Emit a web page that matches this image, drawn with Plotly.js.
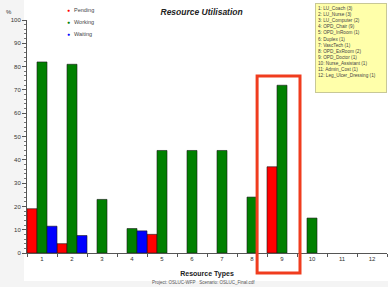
<!DOCTYPE html>
<html>
<head>
<meta charset="utf-8">
<script src="https://cdn.plot.ly/plotly-3.0.1.min.js"></script>
<style>html,body{margin:0;padding:0;background:#f4f4f4;}#chart{width:388px;height:287px;}</style>
</head>
<body>
<div id="chart"></div>
<script>
const categories = [1, 2, 3, 4, 5, 6, 7, 8, 9, 10, 11, 12];
const pending = [19, 4, null, null, 8, null, null, null, 37, null, null, null];
const working = [82, 81, 23, 10.5, 44, 44, 44, 24, 72, 15, null, null];
const waiting = [11.5, 7.5, null, 9.5, null, null, null, null, null, null, null, null];
const seriesNames = ['Pending', 'Working', 'Waiting'];
const seriesColors = ['#ff0000', '#008000', '#0000ff'];
const resourceLabels = [
  '1: LU_Coach (3)', '2: LU_Nurse (3)', '3: LU_Computer (2)', '4: OPD_Chair (9)',
  '5: OPD_InRoom (1)', '6: Duplex (1)', '7: VascTech (1)', '8: OPD_ExRoom (2)',
  '9: OPD_Doctor (1)', '10: Nurse_Assistant (1)', '11: Admin_Cost (1)', '12: Leg_Ulcer_Dressing (1)'
];
const seriesValues = [pending, working, waiting];

const traces = seriesValues.map((vals, i) => ({
  type: 'bar', x: categories, y: vals, name: seriesNames[i],
  marker: {color: seriesColors[i], line: {color: '#1a1a1a', width: 0.6}},
  showlegend: false
}));

const font = 'Liberation Sans, Arial, sans-serif';
const annotations = [
  {text: '%', xref: 'paper', yref: 'paper', x: -0.05, y: 1.035, showarrow: false,
   font: {family: font, size: 6, color: '#333'}, xanchor: 'center', yanchor: 'middle'},
  {text: 'Project: OSLUC-WFP   Scenario: OSLUC_Final.cdf', xref: 'paper', yref: 'paper',
   x: 0.49, y: -0.128, showarrow: false, font: {family: font, size: 4.5, color: '#555'},
   xanchor: 'center', yanchor: 'middle'},
  {text: resourceLabels.join('<br>'), xref: 'paper', yref: 'paper', x: 0.8, y: 1.073,
   xanchor: 'left', yanchor: 'top', align: 'left', showarrow: false,
   font: {family: font, size: 4.7, color: '#444'}, bgcolor: '#ffffaa', bordercolor: '#c8c896',
   borderwidth: 1, borderpad: 2, width: 66, height: 84, valign: 'top'}
];
const legendY = [1.0429, 0.9914, 0.9399];
seriesNames.forEach((name, i) => {
  annotations.push({text: '●', xref: 'paper', yref: 'paper', x: 0.1139, y: legendY[i],
    xanchor: 'center', yanchor: 'middle', showarrow: false,
    font: {family: font, size: 5, color: seriesColors[i]}});
  annotations.push({text: name, xref: 'paper', yref: 'paper', x: 0.126, y: legendY[i],
    xanchor: 'left', yanchor: 'middle', showarrow: false,
    font: {family: font, size: 5.5, color: '#444'}});
});

const layout = {
  width: 388, height: 287,
  margin: {l: 27, r: 1, t: 20, b: 34, pad: 0},
  paper_bgcolor: '#f4f4f4', plot_bgcolor: 'rgba(0,0,0,0)',
  font: {family: font, size: 6, color: '#333'},
  barmode: 'group', bargap: 0, bargroupgap: 0, showlegend: false,
  title: {text: '<b><i>Resource Utilisation</i></b>', font: {family: font, size: 8.5, color: '#222'},
          xref: 'paper', x: 0.485, xanchor: 'center', yref: 'container', y: 0.958, yanchor: 'middle'},
  xaxis: {
    range: [0.5, 12.5], tickmode: 'array', tickvals: categories, ticktext: categories.map(String),
    ticks: '', showgrid: false, zeroline: false, showline: true, linecolor: '#555', linewidth: 1,
    tickfont: {family: font, size: 6, color: '#333'},
    minor: {tickmode: 'linear', tick0: 0.5, dtick: 1, ticks: 'outside', ticklen: 3, tickcolor: '#555', showgrid: false},
    title: {text: '<b>Resource Types</b>', font: {family: font, size: 7, color: '#222'}, standoff: 9}
  },
  yaxis: {
    range: [0, 100], dtick: 10, ticks: 'outside', ticklen: 4, tickcolor: '#555',
    showgrid: false, zeroline: false, showline: true, linecolor: '#555', linewidth: 1,
    tickfont: {family: font, size: 6, color: '#333'},
    minor: {dtick: 2, ticks: 'outside', ticklen: 2, tickcolor: '#777', showgrid: false}
  },
  shapes: [
    {type: 'rect', xref: 'paper', yref: 'paper', x0: -0.0083, x1: 1.01, y0: -0.12, y1: 1.09,
     fillcolor: '#ffffff', line: {width: 0}, layer: 'below'},
    {type: 'rect', xref: 'x', yref: 'paper', x0: 8.17, x1: 9.6, y0: -0.086, y1: 0.76,
     line: {color: '#f03c1e', width: 3}, fillcolor: 'rgba(0,0,0,0)', layer: 'above'}
  ],
  annotations: annotations
};
Plotly.newPlot('chart', traces, layout, {displayModeBar: false, staticPlot: true});
</script>
</body>
</html>
